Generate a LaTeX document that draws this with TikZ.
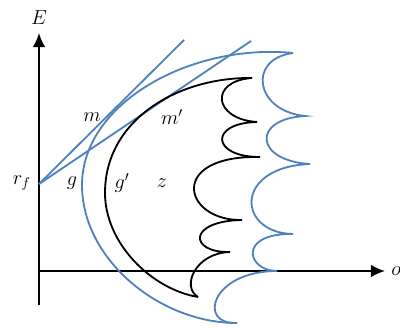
\documentclass[tikz,border=0pt]{standalone}
\usetikzlibrary{arrows.meta}
\definecolor{xanh}{RGB}{79,129,189}
\begin{document}
\begin{tikzpicture}[>={Latex[length=10pt,width=9pt]}, line width=1.3pt,
    nhan/.style={font=\Large}]
    \useasboundingbox (-0.975,-1.4) rectangle (9.025,6.775);
    % 1. Hệ trục
    \coordinate (O) at (0,0);
    \coordinate (Ey) at (0,5.95);
    \coordinate (Ex) at (8.65,0);
    \draw[->] (0,-0.85) -- (Ey);
    \draw[->] (O) -- (Ex);
    \node[nhan] (E) at (0,6.33) {$E$};
    \node[nhan] (o) at (8.93,0) {$o$};
    \node[nhan] (rf) at (-0.43,2.2) {$r_f$};

    % 2. Hai tiếp tuyến
    \coordinate (R) at (0,2.175);
    \coordinate (T1) at (3.625,5.775);
    \coordinate (T2) at (5.3,5.75);
    \draw[xanh] (R) -- (T1);
    \draw[xanh] (R) -- (T2);

    % 3. Đường g (xanh)
    \draw[xanh] (6.35,5.45) .. controls (3.8,5.7) and (1.075,4.2) .. (1.075,2.15)
        .. controls (1.075,0.3) and (3.0,-1.3) .. (4.95,-1.3);
    \draw[xanh] (6.35,5.45) .. controls (5.2,5.3) and (5.4,4.0) .. (6.65,3.875)
        .. controls (5.3,3.8) and (5.4,2.75) .. (6.775,2.675)
        .. controls (4.85,2.6) and (4.95,0.95) .. (6.35,0.925)
        .. controls (4.95,0.95) and (5.2,0) .. (5.95,0)
        .. controls (4.3,0) and (3.95,-1.35) .. (4.95,-1.3);

    % 4. Đường g' (đen)
    \draw (5.325,4.825) .. controls (3.5,4.85) and (1.65,3.8) .. (1.65,1.95)
        .. controls (1.65,0.7) and (2.8,-0.45) .. (3.975,-0.65);
    \draw (5.325,4.825) .. controls (4.25,4.75) and (4.35,3.8) .. (5.45,3.725)
        .. controls (4.25,3.7) and (4.3,2.85) .. (5.525,2.85)
        .. controls (3.2,2.9) and (3.6,1.25) .. (5.075,1.275)
        .. controls (3.7,1.25) and (3.75,0.45) .. (4.775,0.475)
        .. controls (3.9,0.45) and (3.55,-0.4) .. (3.975,-0.65);

    % 5. Nhãn
    \node[nhan] (m) at (1.325,3.85) {$m$};
    \node[nhan] (m2) at (3.325,3.85) {$m'$};
    \node[nhan] (g) at (0.825,2.2) {$g$};
    \node[nhan] (g2) at (2.075,2.2) {$g'$};
    \node[nhan] (z) at (3.075,2.2) {$z$};
\end{tikzpicture}
\end{document}
